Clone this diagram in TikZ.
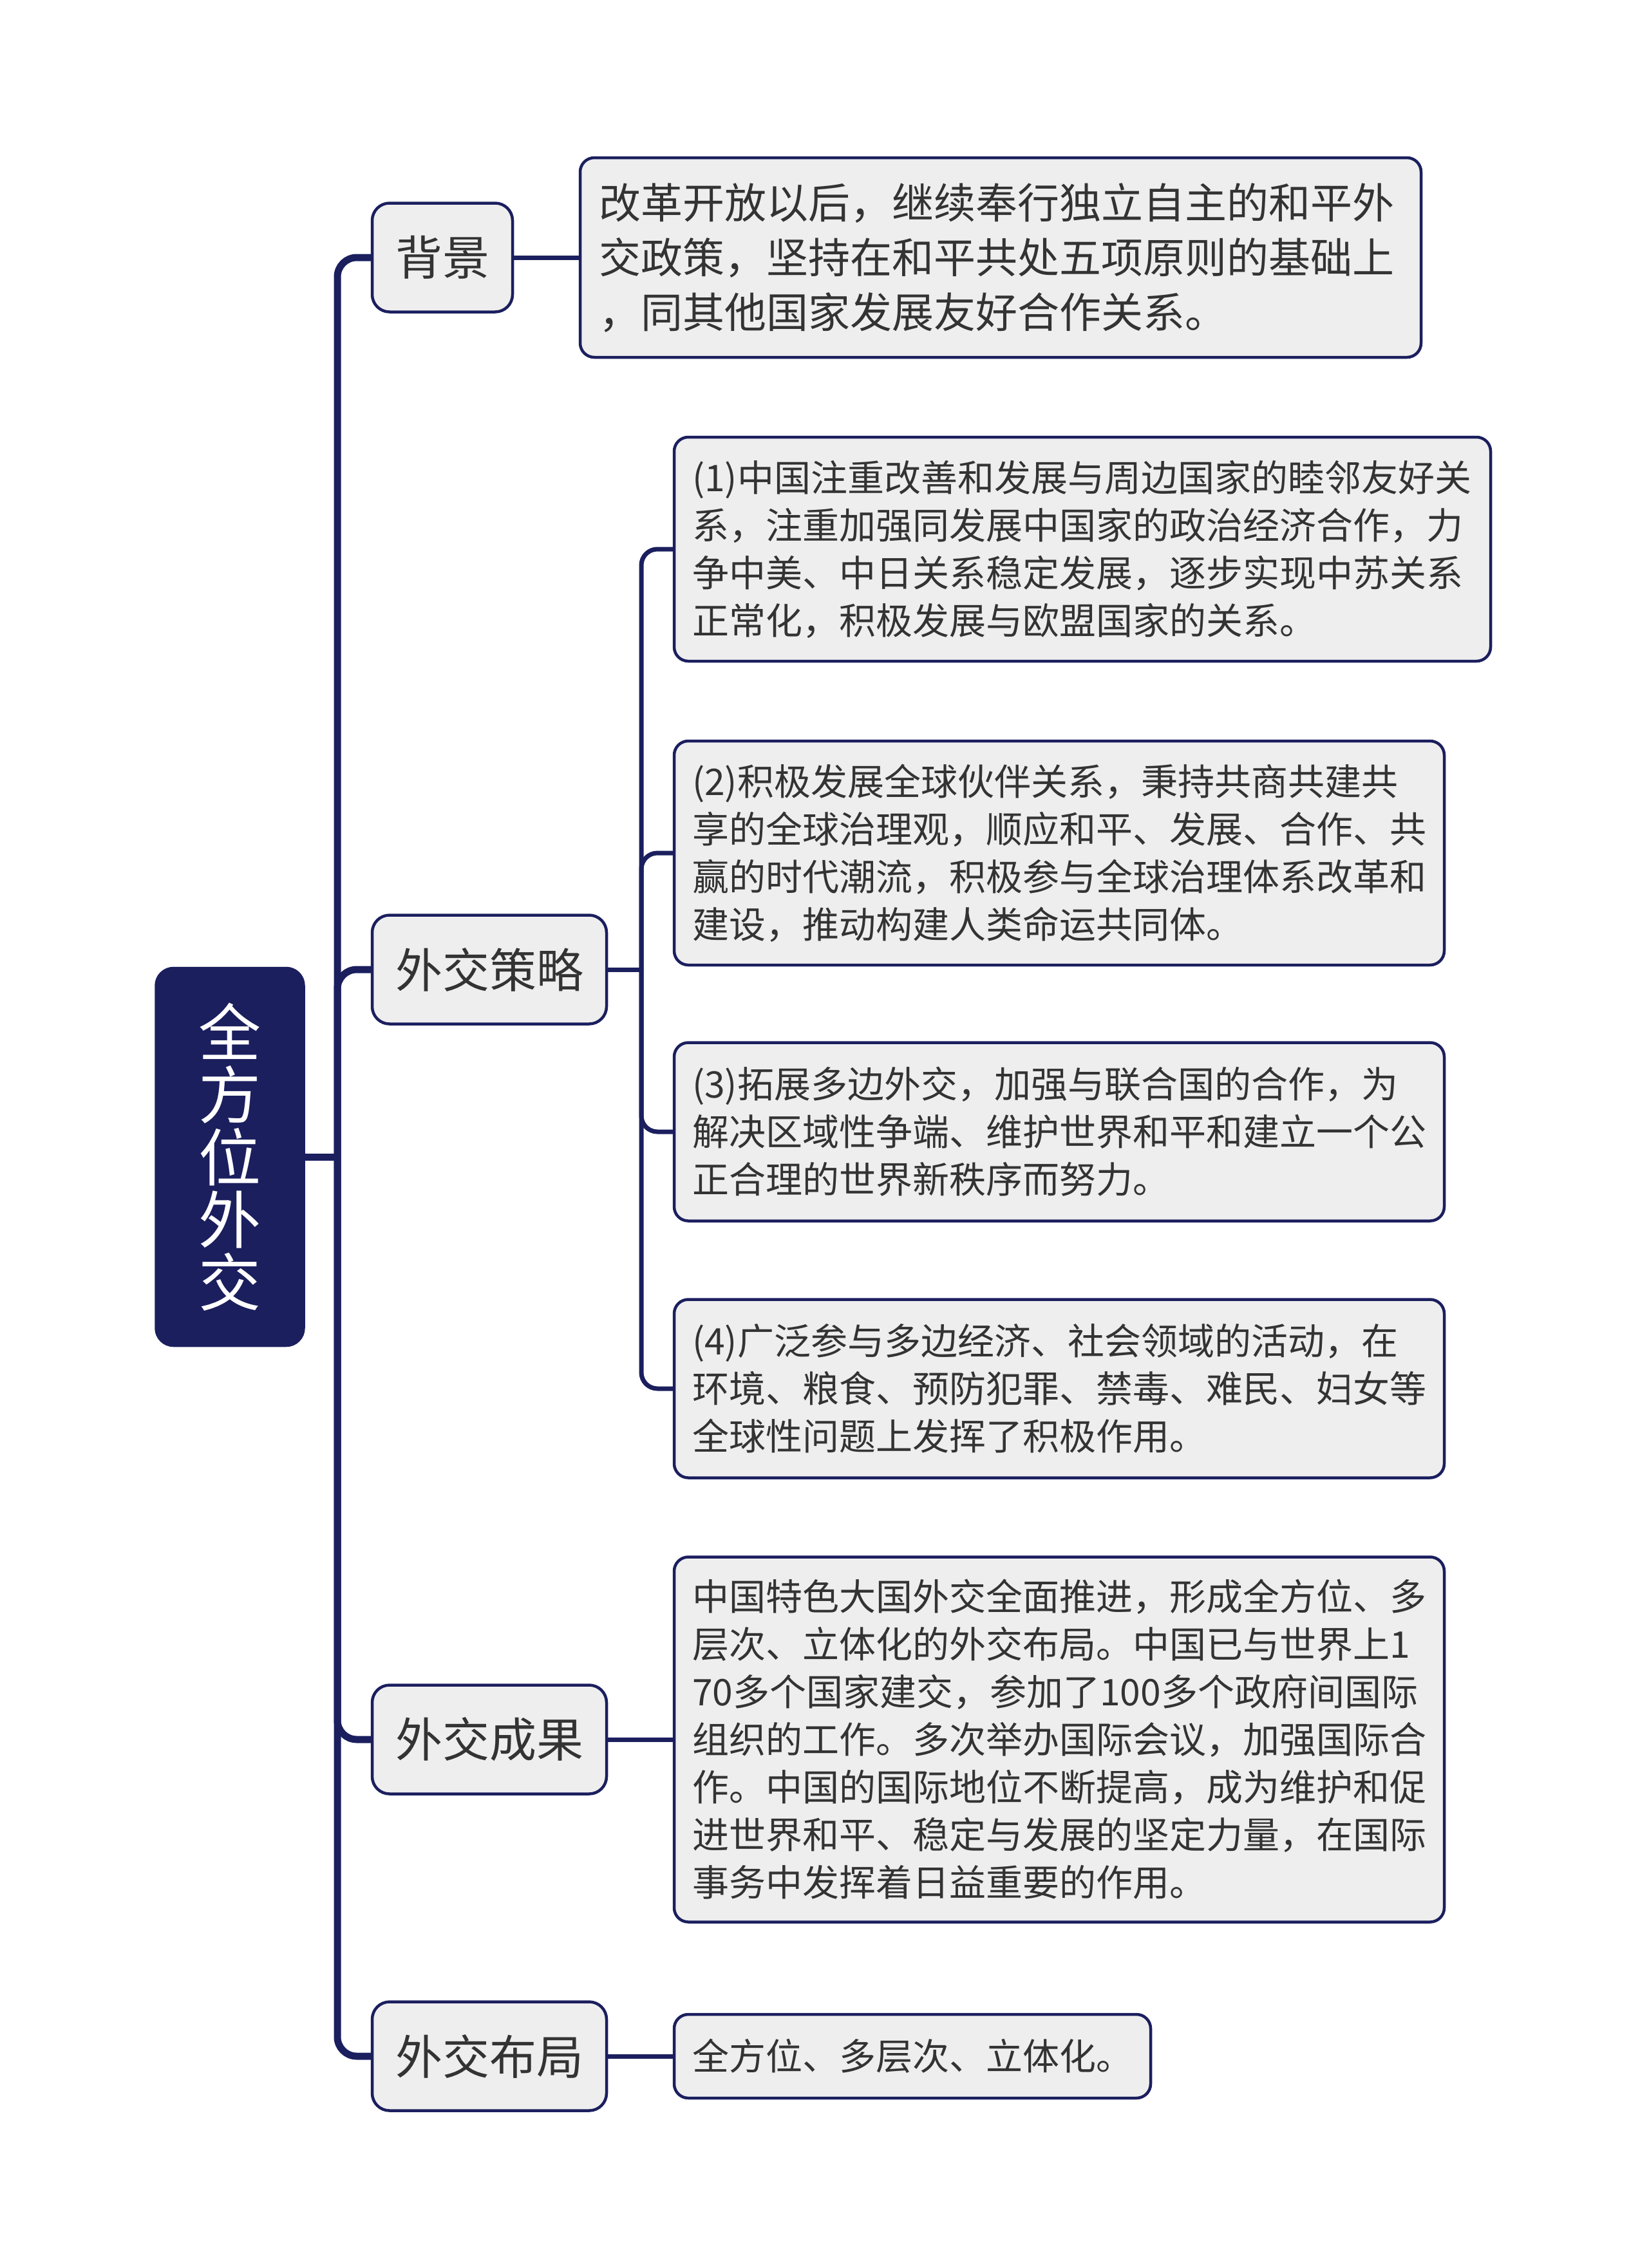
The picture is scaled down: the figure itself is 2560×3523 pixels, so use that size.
\documentclass[tikz,border=0pt]{standalone}
\usepackage{fontspec}
\setmainfont{Noto Sans CJK SC}
\definecolor{navy}{HTML}{1B1F5E}
\definecolor{boxfill}{HTML}{EEEEEE}
\definecolor{txt}{HTML}{333333}
\tikzset{
  rootbox/.style={draw=navy, line width=4.5pt, fill=navy, rounded corners=27pt, minimum width=229pt, minimum height=586pt, text=white, align=center, inner sep=0pt, font=\fontsize{97}{97}\selectfont},
  catbox/.style={draw=navy, line width=4.5pt, fill=boxfill, rounded corners=27pt, minimum height=169pt, text=txt, inner sep=0pt, font=\fontsize{73}{80}\selectfont},
  leafbox/.style={draw=navy, line width=4.5pt, fill=boxfill, rounded corners=22pt, text=txt, align=left, inner xsep=28pt, inner ysep=0pt, font=\fontsize{57}{74}\selectfont},
  trunk/.style={draw=navy, line width=11pt, rounded corners=30pt},
  twig/.style={draw=navy, line width=7pt, rounded corners=25pt},
}
\begin{document}
\begin{tikzpicture}[x=1pt,y=-1pt]
\useasboundingbox[fill=white] (0,0) rectangle (2560,3523);
% root
\node[rootbox] (root) at (357,1797) {全\\方\\位\\外\\交};
% categories
\node[catbox, minimum width=218pt] (bj) at (687,400) {背景};
\node[catbox, minimum width=364pt] (cl) at (760,1506) {外交策略};
\node[catbox, minimum width=364pt] (cg) at (760,2702) {外交成果};
\node[catbox, minimum width=364pt] (bu) at (760,3194) {外交布局};
% leaves
\node[leafbox, text width=1248pt, minimum height=310pt, inner xsep=29pt, font=\fontsize{65}{85}\selectfont] (bjl) at (1554,400) {改革开放以后，继续奉行独立自主的和平外\\交政策，坚持在和平共处五项原则的基础上\\，同其他国家发展友好合作关系。};
\node[leafbox, text width=1212pt, minimum height=348pt] (c1) at (1681,853) {(1)中国注重改善和发展与周边国家的睦邻友好关\\系，注重加强同发展中国家的政治经济合作，力\\争中美、中日关系稳定发展，逐步实现中苏关系\\正常化，积极发展与欧盟国家的关系。};
\node[leafbox, text width=1140pt, minimum height=348pt] (c2) at (1645,1325) {(2)积极发展全球伙伴关系，秉持共商共建共\\享的全球治理观，顺应和平、发展、合作、共\\赢的时代潮流，积极参与全球治理体系改革和\\建设，推动构建人类命运共同体。};
\node[leafbox, text width=1140pt, minimum height=277pt] (c3) at (1645,1758) {(3)拓展多边外交，加强与联合国的合作，为\\解决区域性争端、维护世界和平和建立一个公\\正合理的世界新秩序而努力。};
\node[leafbox, text width=1140pt, minimum height=277pt] (c4) at (1645,2157) {(4)广泛参与多边经济、社会领域的活动，在\\环境、粮食、预防犯罪、禁毒、难民、妇女等\\全球性问题上发挥了积极作用。};
\node[leafbox, text width=1140pt, minimum height=567pt] (cgl) at (1645,2702) {中国特色大国外交全面推进，形成全方位、多\\层次、立体化的外交布局。中国已与世界上1\\70多个国家建交，参加了100多个政府间国际\\组织的工作。多次举办国际会议，加强国际合\\作。中国的国际地位不断提高，成为维护和促\\进世界和平、稳定与发展的坚定力量，在国际\\事务中发挥着日益重要的作用。};
\node[leafbox, text width=684pt, minimum height=130pt] (bul) at (1417,3194) {全方位、多层次、立体化。};
% trunk connectors
\coordinate (rj) at (524,1797);
\draw[trunk] (root.east) -- (rj);
\draw[trunk] (rj) -- (rj |- bj.west) -- (bj.west);
\draw[trunk] (rj) -- (rj |- cl.west) -- (cl.west);
\draw[trunk] (rj) -- (rj |- cg.west) -- (cg.west);
\draw[trunk] (rj) -- (rj |- bu.west) -- (bu.west);
% category to leaf
\coordinate (sj) at (996,1506);
\draw[twig] (bj.east) -- (bjl.west);
\draw[twig] (cl.east) -- (sj);
\draw[twig] (sj) -- (sj |- c1.west) -- (c1.west);
\draw[twig] (sj) -- (sj |- c2.west) -- (c2.west);
\draw[twig] (sj) -- (sj |- c3.west) -- (c3.west);
\draw[twig] (sj) -- (sj |- c4.west) -- (c4.west);
\draw[twig] (cg.east) -- (cgl.west);
\draw[twig] (bu.east) -- (bul.west);
\end{tikzpicture}
\end{document}
